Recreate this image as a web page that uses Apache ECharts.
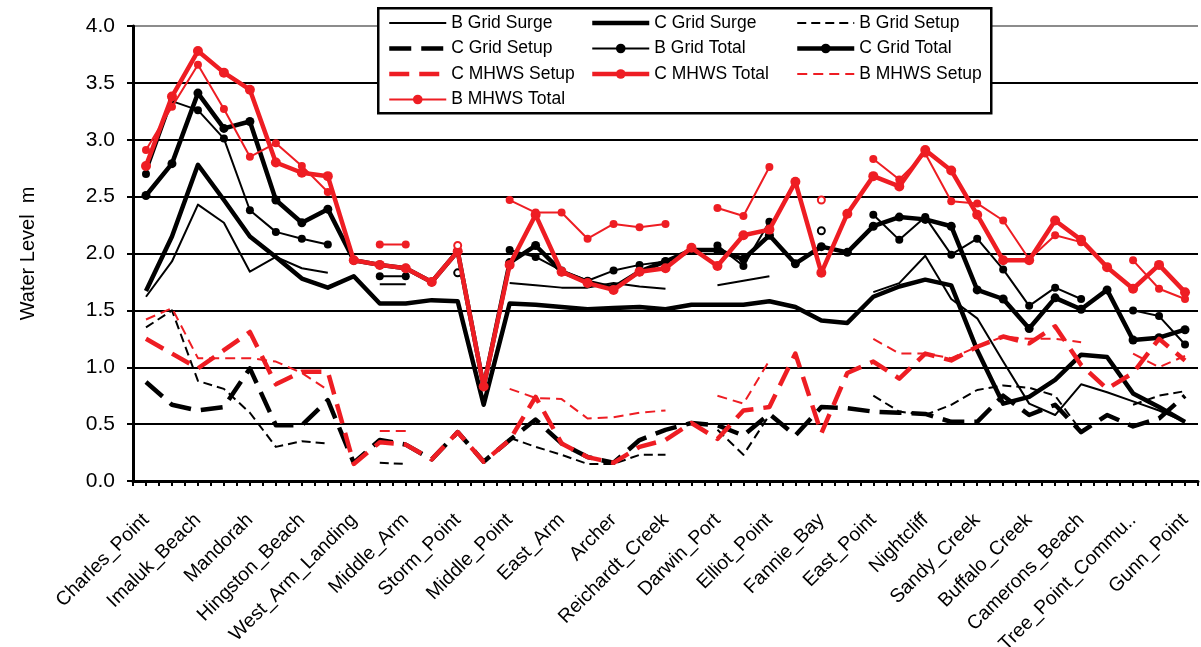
<!DOCTYPE html>
<html>
<head>
<meta charset="utf-8">
<script src="https://cdn.jsdelivr.net/npm/echarts@6/dist/echarts.min.js"></script>
<style>
  html, body { margin: 0; padding: 0; background: #fff; }
  #chart { width: 1201px; height: 647px; }
</style>
</head>
<body>
<div id="chart"></div>
<script>
// Site names: one named site every second station along the coast
const siteLabels = [
  'Charles_Point', 'Imaluk_Beach', 'Mandorah', 'Hingston_Beach', 'West_Arm_Landing',
  'Middle_Arm', 'Storm_Point', 'Middle_Point', 'East_Arm', 'Archer', 'Reichardt_Creek',
  'Darwin_Port', 'Elliot_Point', 'Fannie_Bay', 'East_Point', 'Nightcliff', 'Sandy_Creek',
  'Buffalo_Creek', 'Camerons_Beach', 'Tree_Point_Commu..', 'Gunn_Point'
];
const yTicks = [0, 0.5, 1.0, 1.5, 2.0, 2.5, 3.0, 3.5, 4.0];

// Water level (m) at each of the 41 stations
const bGridSurge = [1.62, 1.93, 2.43, 2.27, 1.84, 1.97, 1.87, 1.83, null, 1.73, 1.73, null, null, null, 1.74, 1.72, 1.70, 1.70, 1.74, 1.71, 1.69, null, 1.72, 1.76, 1.80, null, null, null, 1.66, 1.74, 1.98, 1.60, 1.43, 1.05, 0.68, 0.58, 0.85, 0.78, 0.70, 0.62, 0.52];
const cGridSurge = [1.67, 2.15, 2.78, 2.47, 2.15, 1.97, 1.78, 1.70, 1.80, 1.56, 1.56, 1.59, 1.58, 0.67, 1.56, 1.55, 1.53, 1.51, 1.52, 1.53, 1.51, 1.55, 1.55, 1.55, 1.58, 1.53, 1.41, 1.39, 1.62, 1.71, 1.77, 1.72, 1.15, 0.68, 0.74, 0.89, 1.11, 1.09, 0.77, 0.65, 0.52];
const bGridSetup = [1.35, 1.50, 0.88, 0.81, 0.60, 0.30, 0.35, 0.33, null, 0.16, 0.15, null, null, null, 0.38, 0.30, 0.23, 0.15, 0.15, 0.23, 0.23, null, 0.45, 0.23, 0.58, null, null, null, 0.75, 0.61, 0.58, 0.67, 0.80, 0.84, 0.82, 0.75, 0.44, null, 0.67, 0.75, 0.79];
const cGridSetup = [0.87, 0.67, 0.62, 0.65, 0.99, 0.49, 0.49, 0.71, 0.16, 0.36, 0.32, 0.19, 0.43, 0.17, 0.36, 0.54, 0.33, 0.21, 0.16, 0.36, 0.45, 0.51, 0.49, 0.40, 0.59, 0.40, 0.65, 0.64, 0.61, 0.60, 0.59, 0.52, 0.52, 0.75, 0.58, 0.67, 0.43, 0.58, 0.48, 0.55, 0.75];
const bGridTotal = [2.70, 3.34, 3.26, 3.01, 2.38, 2.19, 2.13, 2.08, null, 1.80, 1.80, null, 1.83, null, 2.03, 1.97, 1.85, 1.76, 1.85, 1.90, 1.93, null, 2.07, 1.89, 2.28, null, 2.20, null, 2.34, 2.12, 2.32, 1.99, 2.13, 1.86, 1.54, 1.70, 1.60, null, 1.50, 1.45, 1.20];
const cGridTotal = [2.51, 2.79, 3.41, 3.10, 3.16, 2.47, 2.27, 2.39, 1.94, 1.90, 1.87, 1.75, 2.02, 0.83, 1.92, 2.07, 1.84, 1.75, 1.70, 1.84, 1.93, 2.03, 2.03, 1.95, 2.16, 1.91, 2.06, 2.01, 2.24, 2.32, 2.30, 2.24, 1.68, 1.60, 1.34, 1.61, 1.51, 1.68, 1.24, 1.26, 1.33];
const cMhwsSetup = [1.25, 1.12, 0.99, 1.15, 1.31, 0.85, 0.96, 0.96, 0.15, 0.34, 0.32, 0.19, 0.43, 0.17, 0.36, 0.74, 0.33, 0.21, 0.16, 0.30, 0.36, 0.51, 0.37, 0.62, 0.65, 1.12, 0.42, 0.95, 1.05, 0.90, 1.12, 1.06, 1.18, 1.27, 1.21, 1.36, 1.02, 0.81, 0.95, 1.25, 1.06];
const cMhwsTotal = [2.77, 3.38, 3.78, 3.59, 3.44, 2.80, 2.71, 2.68, 1.94, 1.90, 1.87, 1.75, 2.02, 0.83, 1.90, 2.34, 1.84, 1.74, 1.68, 1.84, 1.87, 2.05, 1.89, 2.16, 2.21, 2.63, 1.83, 2.35, 2.68, 2.59, 2.91, 2.73, 2.34, 1.94, 1.94, 2.29, 2.12, 1.88, 1.69, 1.90, 1.66];
const bMhwsSetup = [1.42, 1.52, 1.08, 1.08, 1.08, 1.05, 0.95, 0.80, null, 0.44, 0.44, null, null, null, 0.81, 0.73, 0.72, 0.55, 0.56, 0.60, 0.62, null, 0.75, 0.68, 1.06, null, null, null, 1.25, 1.12, 1.12, 1.08, 1.18, 1.27, 1.25, 1.25, 1.22, null, 1.12, 1.00, 1.10];
const bMhwsTotal = [2.91, 3.29, 3.66, 3.27, 2.85, 2.97, 2.77, 2.54, null, 2.08, 2.08, null, 2.07, null, 2.47, 2.36, 2.36, 2.13, 2.26, 2.23, 2.26, null, 2.40, 2.33, 2.76, null, 2.47, null, 2.83, 2.65, 2.88, 2.46, 2.44, 2.29, 1.95, 2.16, 2.10, null, 1.94, 1.69, 1.60];

const RED = '#ee1d23';
const BLACK = '#000000';
const FONT = 'Liberation Sans, Arial, sans-serif';

// 41 stations, named every second one
const categories = [];
for (let i = 0; i < 41; i++) {
  categories.push(i % 2 === 0 ? siteLabels[i / 2] : ' '.repeat(i));
}

// a station with no neighbours on either side gets an open marker
function withIsolated(values, size) {
  return values.map((v, i) => {
    if (v == null) return null;
    const prev = i > 0 ? values[i - 1] : null;
    const next = i < values.length - 1 ? values[i + 1] : null;
    if (prev == null && next == null) {
      return { value: v, symbol: 'emptyCircle', symbolSize: size };
    }
    return v;
  });
}

// line look of every series, reused by the legend
const styles = {
  'B Grid Surge': { color: BLACK, width: 2, z: 2 },
  'C Grid Surge': { color: BLACK, width: 4.5, z: 2 },
  'B Grid Setup': { color: BLACK, width: 2, dash: [9, 5], z: 2 },
  'C Grid Setup': { color: BLACK, width: 4.5, dash: [22, 10], z: 2 },
  'B Grid Total': { color: BLACK, width: 2, marker: true, markerSize: 8, z: 3 },
  'C Grid Total': { color: BLACK, width: 4.5, marker: true, markerSize: 9, z: 3 },
  'C MHWS Setup': { color: RED, width: 4.5, dash: [20, 10], z: 4 },
  'C MHWS Total': { color: RED, width: 4.5, marker: true, markerSize: 10, z: 4 },
  'B MHWS Setup': { color: RED, width: 2, dash: [10, 6], z: 4 },
  'B MHWS Total': { color: RED, width: 2, marker: true, markerSize: 8, z: 4 }
};

function lineSeries(name, values) {
  const opts = styles[name];
  return {
    name: name,
    type: 'line',
    data: opts.marker ? withIsolated(values, 7) : values,
    xAxisIndex: 0,
    connectNulls: false,
    showAllSymbol: true,
    symbol: opts.marker ? 'circle' : 'none',
    symbolSize: opts.markerSize || 8,
    showSymbol: !!opts.marker,
    itemStyle: { color: opts.color },
    lineStyle: {
      color: opts.color,
      width: opts.width,
      type: opts.dash || 'solid',
      cap: 'butt',
      join: 'round'
    },
    emphasis: { disabled: true },
    animation: false,
    z: opts.z
  };
}

const series = [
  lineSeries('B Grid Surge', bGridSurge),
  lineSeries('C Grid Surge', cGridSurge),
  lineSeries('B Grid Setup', bGridSetup),
  lineSeries('C Grid Setup', cGridSetup),
  lineSeries('B Grid Total', bGridTotal),
  lineSeries('C Grid Total', cGridTotal),
  lineSeries('C MHWS Setup', cMhwsSetup),
  lineSeries('C MHWS Total', cMhwsTotal),
  lineSeries('B MHWS Setup', bMhwsSetup),
  lineSeries('B MHWS Total', bMhwsTotal)
];

function legendItems(names) {
  return names.map(n => {
    const s = styles[n];
    const item = {
      name: n,
      lineStyle: { width: s.width, type: s.dash || 'solid', color: s.color, cap: 'butt' }
    };
    if (!s.marker) item.itemStyle = { opacity: 0 };
    return item;
  });
}
const legendText = { fontFamily: FONT, fontSize: 17.5, color: '#000', lineHeight: 20 };
function legendColumn(left, names) {
  return {
    orient: 'vertical', left: left, top: 13, itemWidth: 57, itemHeight: 12, itemGap: 5.5,
    selectedMode: false, textStyle: legendText, padding: 0, z: 20,
    data: legendItems(names)
  };
}

const chart = echarts.init(document.getElementById('chart'), null, { renderer: 'canvas' });
chart.setOption({
  backgroundColor: '#fff',
  animation: false,
  grid: { left: 133, right: 3, top: 26, bottom: 166, containLabel: false, outerBoundsMode: 'none' },
  legend: [
    legendColumn(387, ['B Grid Surge', 'C Grid Setup', 'C MHWS Setup', 'B MHWS Total']),
    legendColumn(590, ['C Grid Surge', 'B Grid Total', 'C MHWS Total']),
    legendColumn(795, ['B Grid Setup', 'C Grid Total', 'B MHWS Setup'])
  ],
  graphic: [{
    type: 'rect', left: 377, top: 7, z: 15,
    shape: { width: 613, height: 105 },
    style: { fill: '#fff', stroke: '#000', lineWidth: 2.5 }
  }],
  xAxis: [{
    type: 'category', data: categories, boundaryGap: true, position: 'bottom',
    axisLine: { lineStyle: { color: '#000', width: 3 } },
    axisTick: { show: true, interval: 0, length: 5, lineStyle: { color: '#000', width: 2 } },
    axisLabel: {
      interval: 0, rotate: 45, margin: 36, color: '#000',
      fontFamily: FONT, fontSize: 19.5
    },
    splitLine: { show: false }
  }, {
    type: 'category', data: categories, boundaryGap: true, position: 'bottom',
    axisLine: { show: false },
    axisTick: { show: true, alignWithLabel: true, interval: 0, length: 5, lineStyle: { color: '#000', width: 2 } },
    axisLabel: { show: false },
    splitLine: { show: false }
  }],
  yAxis: {
    type: 'value', min: yTicks[0], max: yTicks[yTicks.length - 1], interval: 0.5,
    name: 'Water Level  m', nameLocation: 'middle', nameGap: 95,
    nameTextStyle: { fontFamily: FONT, fontSize: 20, color: '#000' },
    axisLine: { show: true, lineStyle: { color: '#000', width: 3 } },
    axisTick: { show: true, length: 6, lineStyle: { color: '#000', width: 2 } },
    axisLabel: {
      margin: 18, color: '#000', fontFamily: FONT, fontSize: 21,
      formatter: v => v.toFixed(1)
    },
    splitLine: {
      show: true,
      lineStyle: { color: ['#000', '#000', '#000', '#000', '#000', '#000', '#000', '#000', '#8c8c8c'], width: 2 }
    }
  },
  series: series
});
</script>
</body>
</html>
